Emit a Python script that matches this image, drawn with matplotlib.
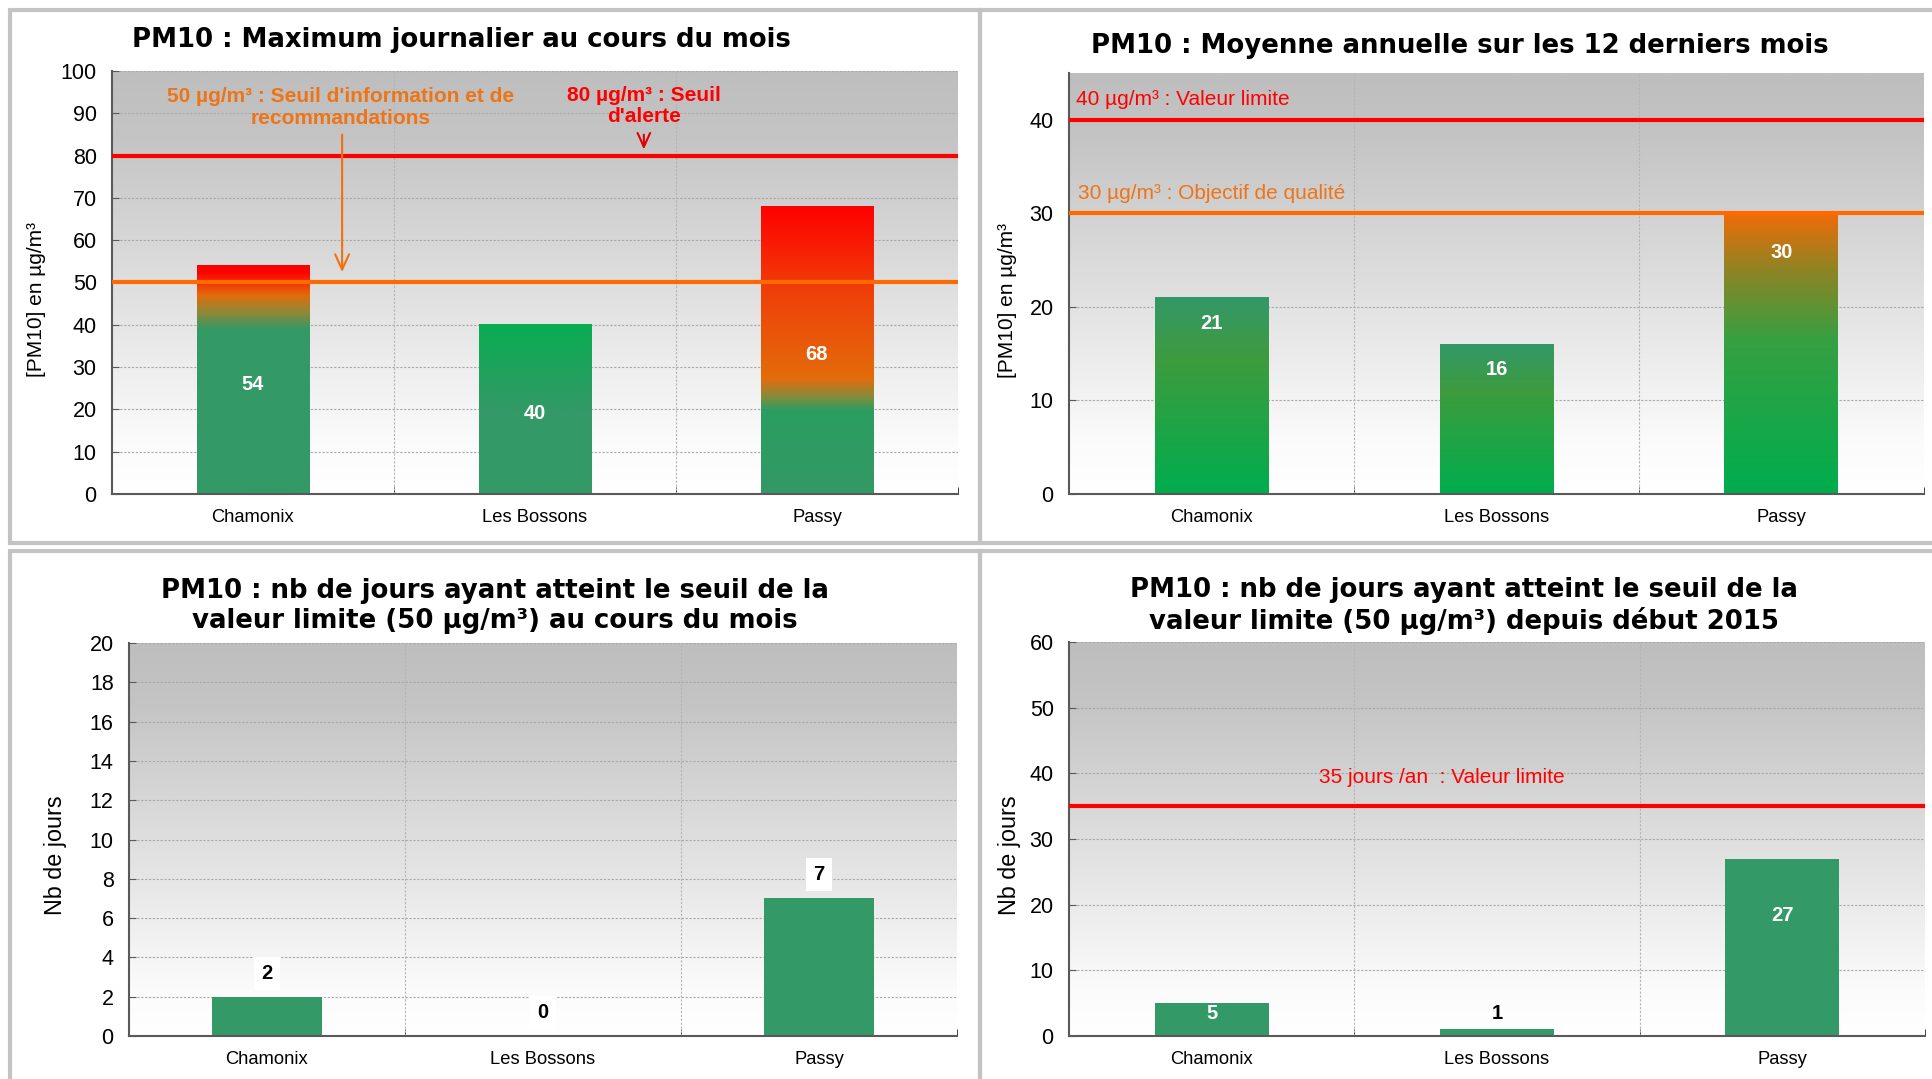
import matplotlib
matplotlib.use('Agg')
import matplotlib.pyplot as plt
import numpy as np
from matplotlib.colors import LinearSegmentedColormap
from matplotlib.patches import Rectangle

# ---------------- data ----------------
stations = ['Chamonix', 'Les Bossons', 'Passy']
max_journalier = [54, 40, 68]          # PM10 max journalier du mois
moyenne_annuelle = [21, 16, 30]        # moyenne annuelle 12 derniers mois
jours_mois = [2, 0, 7]                 # nb jours > 50 au cours du mois
jours_annee = [5, 1, 27]               # nb jours > 50 depuis début 2015

seuil_info = 50
seuil_alerte = 80
valeur_limite_annuelle = 40
objectif_qualite = 30
valeur_limite_jours = 35

titles = ['PM10 : Maximum journalier au cours du mois',
          'PM10 : Moyenne annuelle sur les 12 derniers mois',
          'PM10 : nb de jours ayant atteint le seuil de la\nvaleur limite (50 µg/m³) au cours du mois',
          'PM10 : nb de jours ayant atteint le seuil de la\nvaleur limite (50 µg/m³) depuis début 2015']

# ---------------- style ----------------
W, H = 1932, 1079
plt.rcParams['font.family'] = ['Liberation Sans', 'DejaVu Sans']
TITLE_FONT = ['DejaVu Sans']
GREEN = '#339966'
RED = '#ff0000'
ORANGE = '#ff6a00'
ORANGE_TXT = '#ee7415'
SPINE = '#595959'

fig = plt.figure(figsize=(W / 100, H / 100), dpi=100)
fig.patch.set_facecolor('white')


def rect(l, t, r, b):
    return [l / W, 1 - b / H, (r - l) / W, (b - t) / H]


def fx(x):
    return x / W


def fy(y):
    return 1 - y / H


# panel frames
for (l, t, r, b) in [(10, 10, 980, 543), (980, 10, 1940, 543),
                     (10, 551, 980, 1090), (980, 551, 1940, 1090)]:
    fig.patches.append(Rectangle((fx(l), fy(b)), (r - l) / W, (b - t) / H,
                                 transform=fig.transFigure, fill=False,
                                 edgecolor='#c3c3c3', lw=3.0, zorder=0))

BG = LinearSegmentedColormap.from_list('bg', [(0, '#ffffff'), (0.12, '#fbfbfb'),
                                               (0.85, '#c4c4c4'), (1, '#bebebe')])
GRAD = np.linspace(0, 1, 256).reshape(-1, 1)


def setup(ax, ymax, ystep, ylabel, ylsize, ylx):
    ax.imshow(GRAD, cmap=BG, origin='lower', extent=[0, 1, 0, 1],
              transform=ax.transAxes, aspect='auto', zorder=0)
    ax.set_facecolor('white')
    ax.set_yticks(np.arange(0, ymax + 0.1, ystep))
    ax.yaxis.grid(True, linestyle=(0, (2, 1.5)), color='#a8a8a8', lw=0.8)
    ax.set_axisbelow(True)
    for xb in [0.5, 1.5]:
        ax.axvline(xb, linestyle=(0, (2, 1.5)), color='#b4b4b4', lw=0.8, zorder=0.6)
    for s in ['top', 'right']:
        ax.spines[s].set_visible(False)
    for s in ['left', 'bottom']:
        ax.spines[s].set_color(SPINE)
        ax.spines[s].set_linewidth(1.5)
    ax.tick_params(axis='y', direction='in', length=5, color=SPINE,
                   labelsize=15.5, pad=11)
    ax.set_xticks(range(len(stations)))
    ax.set_xticklabels(stations, fontsize=13.2)
    ax.tick_params(axis='x', length=0, pad=11)
    ax.set_xticks([0.5, 1.5, 2.5], minor=True)
    ax.tick_params(axis='x', which='minor', direction='in', length=5, color='#222222')
    ax.set_ylabel(ylabel, fontsize=ylsize)
    ax.yaxis.set_label_coords(ylx, 0.46)


def grad_bars(ax, values, stops_list):
    bars = ax.bar(range(len(values)), values, width=0.4, color='none', zorder=2)
    for p, stops in zip(bars.patches, stops_list):
        cm = LinearSegmentedColormap.from_list('b', stops)
        x0, w, h = p.get_x(), p.get_width(), p.get_height()
        ax.imshow(GRAD, cmap=cm, origin='lower', extent=[x0, x0 + w, 0, h],
                  aspect='auto', zorder=2, interpolation='bilinear')
    return bars


# ---------------- panel 1 ----------------
ax1 = fig.add_axes(rect(112, 71, 958, 494))
setup(ax1, 100, 10, '[PM10] en µg/m³', 15, -0.078)
stops1 = [
    [(0, GREEN), (0.72, GREEN), (0.79, '#8a8a3a'), (0.87, '#e36c0a'), (0.97, '#ff0000'), (1, '#ff0000')],
    [(0, GREEN), (0.5, GREEN), (1, '#08ad52')],
    [(0, GREEN), (0.29, '#2b9e60'), (0.34, '#8a8a3a'), (0.40, '#e36c0a'), (0.7, '#f0400a'), (1, '#ff0000')],
]
grad_bars(ax1, max_journalier, stops1)
ax1.axhline(seuil_alerte, color=RED, lw=3, zorder=3)
ax1.axhline(seuil_info, color=ORANGE, lw=3, zorder=3)
for i, v in enumerate(max_journalier):
    ax1.text(i, v / 2 - 1, str(v), color='white', fontsize=14.5, fontweight='bold',
             ha='center', va='center', zorder=4)
ax1.text(0.31, 91.4, "50 µg/m³ : Seuil d'information et de\nrecommandations",
         color=ORANGE_TXT, fontsize=15, fontweight='bold', ha='center', va='center',
         zorder=4, linespacing=1.15)
ax1.text(1.386, 91.8, "80 µg/m³ : Seuil\nd'alerte",
         color=RED, fontsize=15, fontweight='bold', ha='center', va='center',
         zorder=4, linespacing=1.15)
ax1.annotate('', xy=(0.316, 51.8), xytext=(0.316, 85.6),
             arrowprops=dict(arrowstyle='->,head_length=1.1,head_width=0.5', color='#f07010', lw=1.5),
             zorder=4)
ax1.annotate('', xy=(1.386, 80.8), xytext=(1.386, 85.6),
             arrowprops=dict(arrowstyle='->,head_length=1.0,head_width=0.45', color='#e00000', lw=1.5),
             zorder=4)
ax1.set_xlim(-0.5, 2.5)
ax1.set_ylim(0, 100)

# ---------------- panel 2 ----------------
ax2 = fig.add_axes(rect(1069, 73, 1924, 494))
setup(ax2, 40, 10, '[PM10] en µg/m³', 15, -0.061)
stops2 = [
    [(0, '#00ad4e'), (0.68, '#3d9c3e'), (1, '#349868')],
    [(0, '#00ad4e'), (0.68, '#3d9c3e'), (1, '#349868')],
    [(0, '#00ad4e'), (0.55, '#36a042'), (0.8, '#8f8424'), (1, '#f06b08')],
]
grad_bars(ax2, moyenne_annuelle, stops2)
ax2.axhline(valeur_limite_annuelle, color=RED, lw=3, zorder=3)
ax2.axhline(objectif_qualite, color=ORANGE, lw=3, zorder=3)
label_y2 = [18.2, 13.3, 25.8]
for i, v in enumerate(moyenne_annuelle):
    ax2.text(i, label_y2[i], str(v), color='white', fontsize=14.5, fontweight='bold',
             ha='center', va='center', zorder=4)
ax2.text(-0.475, 42.2, '40 µg/m³ : Valeur limite', color=RED, fontsize=15,
         ha='left', va='center', zorder=4)
ax2.text(-0.47, 32.1, '30 µg/m³ : Objectif de qualité', color=ORANGE_TXT, fontsize=15,
         ha='left', va='center', zorder=4)
ax2.set_xlim(-0.5, 2.5)
ax2.set_ylim(0, 45)

# ---------------- panel 3 ----------------
ax3 = fig.add_axes(rect(129, 643, 957, 1036))
setup(ax3, 20, 2, 'Nb de jours', 16.8, -0.0745)
ax3.bar(range(len(jours_mois)), jours_mois, width=0.4, color=GREEN, zorder=2)
for i, v in enumerate(jours_mois):
    ax3.text(i, v + 1.2, str(v), color='black', fontsize=14.5, fontweight='bold',
             ha='center', va='center', zorder=4,
             bbox=dict(boxstyle='square,pad=0.35', fc='white', ec='none'))
ax3.set_xlim(-0.5, 2.5)
ax3.set_ylim(0, 20)

# ---------------- panel 4 ----------------
ax4 = fig.add_axes(rect(1069, 642, 1925, 1036))
setup(ax4, 60, 10, 'Nb de jours', 16.8, -0.056)
ax4.bar(range(len(jours_annee)), jours_annee, width=0.4, color=GREEN, zorder=2)
ax4.axhline(valeur_limite_jours, color=RED, lw=3, zorder=3)
label_y4 = [3.5, 3.5, 18.4]
label_c4 = ['white', 'black', 'white']
for i, v in enumerate(jours_annee):
    ax4.text(i, label_y4[i], str(v), color=label_c4[i], fontsize=14.5, fontweight='bold',
             ha='center', va='center', zorder=4)
ax4.text(0.377, 39.4, '35 jours /an  : Valeur limite', color=RED, fontsize=15,
         ha='left', va='center', zorder=4)
ax4.set_xlim(-0.5, 2.5)
ax4.set_ylim(0, 60)

# ---------------- titles ----------------
title_pos = [(461, 40), (1460, 46), (495, 606), (1464, 606)]
for t, (x, y) in zip(titles, title_pos):
    fig.text(fx(x), fy(y), t, family=TITLE_FONT, fontsize=18.7, fontweight='bold',
             ha='center', va='center', linespacing=1.2)

fig.savefig('out.png', dpi=100, facecolor='white')
